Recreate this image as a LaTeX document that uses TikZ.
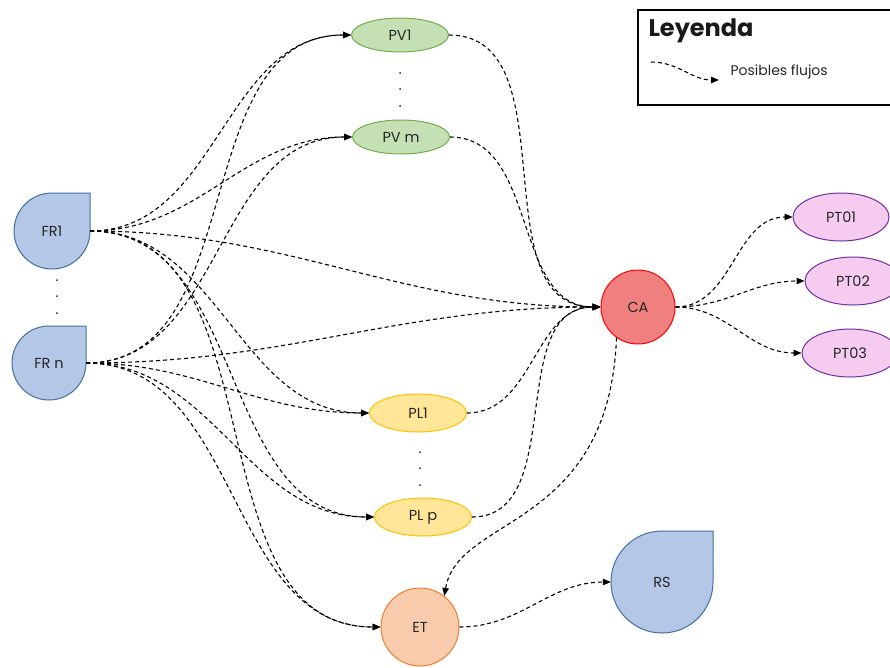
\documentclass[tikz,border=0pt]{standalone}
\usepackage{fontspec}
\setmainfont{Poppins}
\usetikzlibrary{arrows.meta,shapes.geometric}
\definecolor{frfill}{HTML}{B4C7E7}
\definecolor{frdraw}{HTML}{41719C}
\definecolor{pvfill}{HTML}{C5E0B4}
\definecolor{pvdraw}{HTML}{70AD47}
\definecolor{plfill}{HTML}{FFE699}
\definecolor{pldraw}{HTML}{FFC000}
\definecolor{cafill}{HTML}{F08080}
\definecolor{cadraw}{HTML}{FF0000}
\definecolor{ptfill}{HTML}{F5CCF0}
\definecolor{ptdraw}{HTML}{7030A0}
\definecolor{etfill}{HTML}{F8CBAD}
\definecolor{etdraw}{HTML}{ED7D31}
\begin{document}
\begin{tikzpicture}[x=1pt,y=1pt,
  lbl/.style={font=\fontsize{14.5}{17}\selectfont, text=black!85},
  flow/.style={draw=black, line width=1.1pt, dash pattern=on 4pt off 3pt,
    -{Triangle[length=8pt,width=6.5pt]}},
  drop/.style={fill=frfill, draw=frdraw, line width=1pt},
  dropnode/.style={circle, inner sep=0pt, lbl},
  pv/.style={ellipse, draw=pvdraw, fill=pvfill, line width=1pt, minimum width=97pt, minimum height=34pt, inner sep=0pt, lbl},
  pl/.style={ellipse, draw=pldraw, fill=plfill, line width=1pt, minimum width=97pt, minimum height=38pt, inner sep=0pt, lbl},
  pt/.style={ellipse, draw=ptdraw, fill=ptfill, line width=1pt, minimum width=96pt, minimum height=48pt, inner sep=0pt, lbl},
  dot/.style={fill=black!85}
]
\clip (0,0) rectangle (890,-667);
\fill[white] (0,0) rectangle (890,-667);

% FR nodes (teardrops)
\draw[drop] (90,-193) -- (90,-231) arc[start angle=0,end angle=-270,radius=38] -- cycle;
\node[dropnode, minimum size=76pt] (fr1) at (52,-231) {FR1};
\draw[drop] (86,-326) -- (86,-363) arc[start angle=0,end angle=-270,radius=37] -- cycle;
\node[dropnode, minimum size=74pt] (frn) at (49,-363) {FR n};
\foreach \yy in {280,296,313} \fill[dot] (57,-\yy) circle (1pt);

% RS
\draw[drop] (713,-531) -- (713,-582) arc[start angle=0,end angle=-270,radius=51] -- cycle;
\node[dropnode, minimum size=102pt] (rs) at (662,-582) {RS};

% PV
\node[pv] (pv1) at (400,-35) {PV1};
\node[pv] (pvm) at (401,-137) {PV m};
\foreach \yy in {73,89,106} \fill[dot] (400,-\yy) circle (1pt);

% PL
\node[pl] (pl1) at (418,-413) {PL1};
\node[pl] (plp) at (423,-517) {PL p};
\foreach \yy in {452,468,485} \fill[dot] (420,-\yy) circle (1pt);

% CA
\node[circle, draw=cadraw, fill=cafill, line width=1pt, minimum size=74pt, inner sep=0pt, lbl] (ca) at (638,-307) {CA};

% PT
\node[pt] (pt1) at (841,-217) {PT01};
\node[pt] (pt2) at (853,-281) {PT02};
\node[pt] (pt3) at (850,-353) {PT03};

% ET
\node[circle, draw=etdraw, fill=etfill, line width=1pt, minimum size=78pt, inner sep=0pt, lbl] (et) at (420,-627) {ET};

% flows from FR1 and FRn
\foreach \src in {fr1,frn}{
  \foreach \dst in {pv1,pvm,ca,pl1,plp,et}{
    \draw[flow] (\src.east) to[out=0,in=180] (\dst.west);
  }
}
% PV/PL to CA
\draw[flow] (pv1.east) to[out=0,in=180] (ca.west);
\draw[flow] (pvm.east) to[out=0,in=180] (ca.west);
\draw[flow] (pl1.east) to[out=0,in=180] (ca.west);
\draw[flow] (plp.east) to[out=0,in=180] (ca.west);
% CA to PT
\draw[flow] (ca.east) to[out=0,in=180] (pt1.west);
\draw[flow] (ca.east) to[out=0,in=180] (pt2.west);
\draw[flow] (ca.east) to[out=0,in=180] (pt3.west);
% CA to ET
\draw[flow] (ca.235) .. controls (609,-530) and (458,-515) .. (et.52);
% ET to RS
\draw[flow] (et.east) to[out=0,in=180] (rs.west);

% Legend
\draw[line width=2.5pt] (638,-10) rectangle (896,-105);
\node[anchor=west, font=\fontsize{24}{28}\selectfont\bfseries, text=black!90] (legtitle) at (645,-31) {Leyenda};
\coordinate (la) at (651,-62);
\coordinate (lb) at (719,-80);
\draw[flow] (la) to[out=0,in=180] (lb);
\node[anchor=west, lbl, font=\fontsize{14}{16}\selectfont] (legtext) at (727,-72) {Posibles flujos};
\end{tikzpicture}
\end{document}
